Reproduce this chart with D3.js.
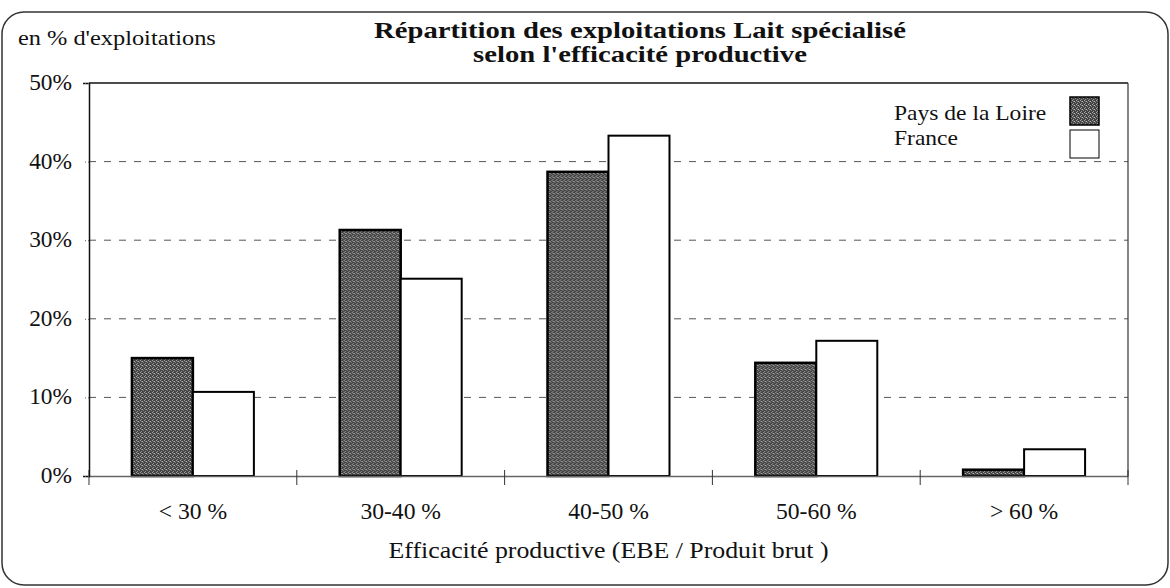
<!DOCTYPE html>
<html><head><meta charset="utf-8">
<script src="https://cdn.jsdelivr.net/npm/d3@7"></script>
<style>html,body{margin:0;padding:0;background:#fff}svg{display:block}</style>
</head><body>
<script>
const categories = ["< 30 %", "30-40 %", "40-50 %", "50-60 %", "> 60 %"];
const seriesNames = ["Pays de la Loire", "France"];
const paysDeLaLoire = [15.0, 31.3, 38.7, 14.4, 0.8];
const france = [10.7, 25.1, 43.3, 17.2, 3.4];
const yTicks = [0, 10, 20, 30, 40, 50];
const yTickLabels = ["0%", "10%", "20%", "30%", "40%", "50%"];
const titleLines = ["Répartition des exploitations Lait spécialisé", "selon l'efficacité productive"];
const yAxisTitle = "en % d'exploitations";
const xAxisTitle = "Efficacité productive (EBE / Produit brut )";

const W = 1170, H = 588;
const plot = {left: 89, right: 1128, top: 83, bottom: 476};
const FONT = "'Liberation Serif','Times New Roman',serif";

const svg = d3.select("body").append("svg").attr("width", W).attr("height", H);
const defs = svg.append("defs");
const pat = defs.append("pattern").attr("id", "stipple").attr("patternUnits", "userSpaceOnUse")
  .attr("width", 4).attr("height", 4);
pat.append("rect").attr("width", 4).attr("height", 4).attr("fill", "#444");
pat.append("rect").attr("x", 0).attr("y", 0).attr("width", 1).attr("height", 1).attr("fill", "#a8a8a8");
pat.append("rect").attr("x", 2).attr("y", 1).attr("width", 1).attr("height", 1).attr("fill", "#bbb");
pat.append("rect").attr("x", 1).attr("y", 3).attr("width", 1).attr("height", 1).attr("fill", "#999");
pat.append("rect").attr("x", 3).attr("y", 2).attr("width", 1).attr("height", 1).attr("fill", "#888");
pat.append("rect").attr("x", 1).attr("y", 1).attr("width", 1).attr("height", 1).attr("fill", "#777");

// outer rounded frame
svg.append("rect").attr("x", 2).attr("y", 12).attr("width", 1166).attr("height", 573)
  .attr("rx", 22).attr("fill", "none").attr("stroke", "#333").attr("stroke-width", 1.5);

function stext(x, y, str, size, sx, anchor, weight) {
  return svg.append("text")
    .attr("transform", `translate(${x},${y}) scale(${sx},1)`)
    .attr("text-anchor", anchor || "start")
    .attr("font-family", FONT).attr("font-size", size)
    .attr("font-weight", weight || "normal").attr("fill", "#111")
    .text(str);
}

const x0 = d3.scaleBand().domain(categories).range([plot.left, plot.right])
  .paddingInner(0.413).paddingOuter(0.2065);
const x1 = d3.scaleBand().domain(seriesNames).range([0, x0.bandwidth()]);
const y = d3.scaleLinear().domain([0, 50]).range([plot.bottom, plot.top]);

// gridlines
svg.append("g").selectAll("line").data(yTicks.filter(d => d > 0 && d < 50)).join("line")
  .attr("x1", plot.left).attr("x2", plot.right)
  .attr("y1", d => y(d)).attr("y2", d => y(d))
  .attr("stroke", "#555").attr("stroke-width", 1).attr("stroke-dasharray", "7,8");

// plot border top/right
svg.append("line").attr("x1", plot.left).attr("x2", plot.right).attr("y1", plot.top).attr("y2", plot.top)
  .attr("stroke", "#111").attr("stroke-width", 1.5);
svg.append("line").attr("x1", plot.right).attr("x2", plot.right).attr("y1", plot.top).attr("y2", plot.bottom)
  .attr("stroke", "#333").attr("stroke-width", 1.2);

// bars
const data = categories.map((c, i) => ({cat: c, vals: [paysDeLaLoire[i], france[i]]}));
const g = svg.append("g").selectAll("g").data(data).join("g")
  .attr("transform", d => `translate(${x0(d.cat)},0)`);
g.selectAll("rect").data(d => d.vals.map((v, j) => ({s: seriesNames[j], v, j}))).join("rect")
  .attr("x", d => x1(d.s)).attr("width", x1.bandwidth())
  .attr("y", d => y(d.v)).attr("height", d => y(0) - y(d.v))
  .attr("fill", d => d.j === 0 ? "url(#stipple)" : "#fff")
  .attr("stroke", "#000").attr("stroke-width", d => d.j === 0 ? 2.5 : 2);

// x axis
const xAxis = d3.axisBottom(x0).tickSize(0).tickFormat("");
const xg = svg.append("g").attr("transform", `translate(0,${plot.bottom})`).call(xAxis);
xg.select(".domain").attr("stroke", "#666").attr("stroke-width", 1.5);
const bounds = d3.range(categories.length + 1).map(i => plot.left + i * x0.step());
svg.append("g").selectAll("line").data(bounds).join("line")
  .attr("x1", d => d).attr("x2", d => d).attr("y1", plot.bottom - 6).attr("y2", plot.bottom + 9)
  .attr("stroke", "#333").attr("stroke-width", 1);
categories.forEach(c => stext(x0(c) + x0.bandwidth() / 2, 519, c, 22.5, 1.05, "middle"));

// y axis
const yAxis = d3.axisLeft(y).tickValues(yTicks).tickSize(6).tickFormat("");
const yg = svg.append("g").attr("transform", `translate(${plot.left},0)`).call(yAxis);
yg.select(".domain").attr("stroke", "#111").attr("stroke-width", 1.5);
yg.selectAll(".tick line").attr("stroke", "#555").attr("stroke-dasharray", "1,2");
yTicks.forEach((t, i) => stext(72, y(t) + 7, yTickLabels[i], 22.5, 1.04, "end"));

// titles
stext(18, 45, yAxisTitle, 21, 1.16, "start");
stext(640, 38, titleLines[0], 23.5, 1.22, "middle", "bold");
stext(640, 62, titleLines[1], 23.5, 1.22, "middle", "bold");
stext((plot.left + plot.right) / 2, 558, xAxisTitle, 23.5, 1.1, "middle");

// legend
const legY = [120, 145];
const swY = [97, 130];
seriesNames.forEach((s, i) => {
  stext(894, legY[i], s, 22, 1.07, "start");
  svg.append("rect").attr("x", 1070).attr("y", swY[i]).attr("width", 29).attr("height", 28)
    .attr("fill", i === 0 ? "url(#stipple)" : "#fff").attr("stroke", "#000").attr("stroke-width", i === 0 ? 1.5 : 1);
});
</script>
</body></html>
